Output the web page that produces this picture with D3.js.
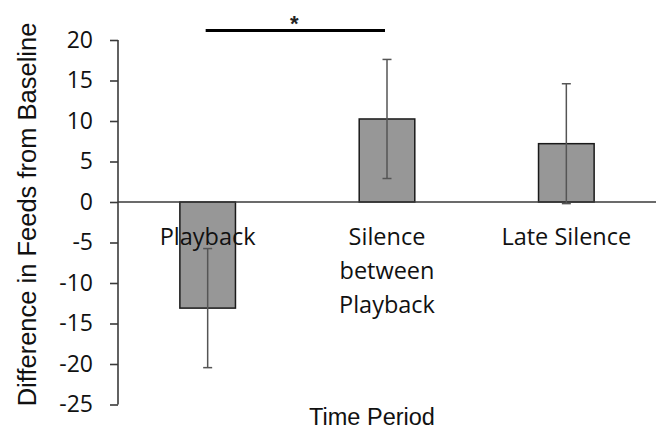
<!DOCTYPE html>
<html>
<head>
<meta charset="utf-8">
<script src="https://cdn.jsdelivr.net/npm/d3@7"></script>
<style>
  body { margin: 0; background: #fff; }
  svg { display: block; }
</style>
</head>
<body>
<svg id="chart"></svg>
<script>
// data
const periods = ["Playback", "Silence between Playback", "Late Silence"];
const periodLines = [["Playback"], ["Silence", "between", "Playback"], ["Late Silence"]];
const means = [-13.1, 10.25, 7.2];
const errors = [7.35, 7.35, 7.4];
const yTicks = [20, 15, 10, 5, 0, -5, -10, -15, -20, -25];

const width = 664;
const height = 429;

const svg = d3.select("#chart").attr("width", width).attr("height", height);

const x = d3.scaleBand().domain(periods).range([118, 656]).paddingInner(0.69).paddingOuter(0.345);
const y = d3.scaleLinear().domain([-25, 20]).range([404.5, 40]);

// y axis (plain hyphen for negatives, like the original)
const yAxis = svg.append("g")
  .attr("transform", "translate(118,0)")
  .call(d3.axisLeft(y).tickValues(yTicks).tickFormat(d => String(d))
    .tickSize(8).tickPadding(17).tickSizeOuter(0));
yAxis.select(".domain").attr("stroke", "#3a3a3a").attr("stroke-width", 1.6)
  .attr("d", `M0,${y(20)}V${y(-25)}`);
yAxis.selectAll(".tick line").attr("stroke", "#3a3a3a").attr("stroke-width", 1.6);
yAxis.selectAll(".tick text")
  .attr("fill", "#111")
  .style("font-family", "'Open Sans', sans-serif")
  .style("font-size", "23px");

// bars
svg.append("g").selectAll("rect")
  .data(periods)
  .join("rect")
  .attr("x", d => x(d))
  .attr("width", x.bandwidth())
  .attr("y", (d, i) => Math.min(y(means[i]), y(0)))
  .attr("height", (d, i) => Math.abs(y(means[i]) - y(0)))
  .attr("fill", "#979797")
  .attr("stroke", "#1a1a1a")
  .attr("stroke-width", 1.5);

// zero line
svg.append("line")
  .attr("x1", 118).attr("x2", 656)
  .attr("y1", y(0)).attr("y2", y(0))
  .attr("stroke", "#3a3a3a").attr("stroke-width", 1.6);

// error bars
const err = svg.append("g").attr("stroke", "#555").attr("stroke-width", 1.5);
periods.forEach((p, i) => {
  const cx = x(p) + x.bandwidth() / 2;
  const top = y(means[i] + errors[i]);
  const bot = y(means[i] - errors[i]);
  err.append("line").attr("x1", cx).attr("x2", cx).attr("y1", top).attr("y2", bot);
  err.append("line").attr("x1", cx - 4.5).attr("x2", cx + 4.5).attr("y1", top).attr("y2", top);
  err.append("line").attr("x1", cx - 4.5).attr("x2", cx + 4.5).attr("y1", bot).attr("y2", bot);
});

// category labels
periods.forEach((p, i) => {
  const cx = x(p) + x.bandwidth() / 2;
  const t = svg.append("text")
    .attr("x", cx)
    .attr("y", y(0) + 43)
    .attr("text-anchor", "middle")
    .attr("fill", "#111")
    .style("font-family", "'Open Sans', sans-serif")
    .style("font-size", "23.5px");
  periodLines[i].forEach((line, j) => {
    t.append("tspan").attr("x", cx).attr("dy", j === 0 ? 0 : 34).text(line);
  });
});

// significance bracket
const c0 = x(periods[0]) + x.bandwidth() / 2;
const c1 = x(periods[1]) + x.bandwidth() / 2;
svg.append("line")
  .attr("x1", c0 - 2).attr("x2", c1 - 2)
  .attr("y1", 30.5).attr("y2", 30.5)
  .attr("stroke", "#000").attr("stroke-width", 3);
svg.append("text")
  .attr("x", (c0 + c1) / 2 - 3)
  .attr("y", 31)
  .attr("text-anchor", "middle")
  .attr("fill", "#222")
  .style("font-family", "'Liberation Sans', Arial, sans-serif")
  .style("font-size", "22px")
  .style("font-weight", "bold")
  .text("*");

// axis titles
svg.append("text")
  .attr("transform", "translate(36,214.5) rotate(-90)")
  .attr("text-anchor", "middle")
  .attr("fill", "#111")
  .style("font-family", "'Liberation Sans', Arial, sans-serif")
  .style("font-size", "25.5px")
  .text("Difference in Feeds from Baseline");

svg.append("text")
  .attr("x", 372)
  .attr("y", 425)
  .attr("text-anchor", "middle")
  .attr("fill", "#111")
  .style("font-family", "'Liberation Sans', Arial, sans-serif")
  .style("font-size", "23.5px")
  .text("Time Period");
</script>
</body>
</html>
